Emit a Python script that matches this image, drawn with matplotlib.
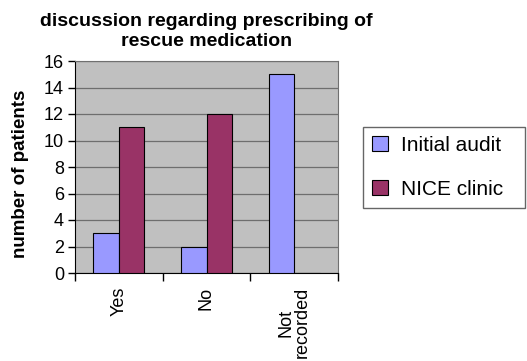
import matplotlib.pyplot as plt
import numpy as np

categories = ["Yes", "No", "Not\nrecorded"]
initial_audit = [3, 2, 15]
nice_clinic = [11, 12, 0]
series_names = ["Initial audit", "NICE clinic"]

plt.rcParams['font.family'] = ['Liberation Sans', 'DejaVu Sans']

fig = plt.figure(figsize=(5.27, 3.61), dpi=100)
ax = fig.add_axes([75 / 527, 1 - 273 / 361, 263 / 527, 212 / 361])
ax.set_facecolor("#c0c0c0")

x = np.arange(len(categories))
w = 0.29
ax.bar(x - w / 2, initial_audit, w, color="#9999ff", edgecolor="black",
       linewidth=0.8, label=series_names[0], zorder=3)
ax.bar(x + w / 2, nice_clinic, w, color="#993366", edgecolor="black",
       linewidth=0.8, label=series_names[1], zorder=3)

ax.set_xlim(-0.5, len(categories) - 0.5)
ax.set_ylim(0, 16)
ax.set_yticks(range(0, 17, 2))
ax.yaxis.grid(True, color="#6e6e6e", linewidth=0.9, zorder=1)

# category labels in the middle, ticks between categories
ax.set_xticks(x)
ax.set_xticklabels(categories, rotation=90, fontsize=13, va="top",
                   linespacing=1.0)
ax.tick_params(axis="x", which="major", length=0, pad=10)
ax.set_xticks(np.arange(-0.5, len(categories)), minor=True)
ax.tick_params(axis="x", which="minor", length=6, width=1, direction="out")
ax.tick_params(axis="y", length=5, width=1, labelsize=13, pad=3)

for side in ["top", "right"]:
    ax.spines[side].set_color("#707070")
for side in ["left", "bottom"]:
    ax.spines[side].set_color("black")

ax.set_ylabel("number of patients", fontsize=13.5, fontweight="bold")
ax.yaxis.set_label_coords(-0.175, 0.469)
ax.set_title("discussion regarding prescribing of\nrescue medication",
             fontsize=14, fontweight="bold", pad=11, linespacing=1.2)

leg = fig.legend(loc="upper left",
                 bbox_to_anchor=(363 / 527, 1 - 127 / 361, 162 / 527, 0.0),
                 mode="expand", fontsize=15, frameon=True, fancybox=False,
                 borderpad=0.42, labelspacing=1.2, handlelength=0.77,
                 handleheight=0.77, handletextpad=0.65, borderaxespad=0)
leg.get_frame().set_edgecolor("#404040")
leg.get_frame().set_linewidth(1)

fig.savefig("out.png", dpi=100)
